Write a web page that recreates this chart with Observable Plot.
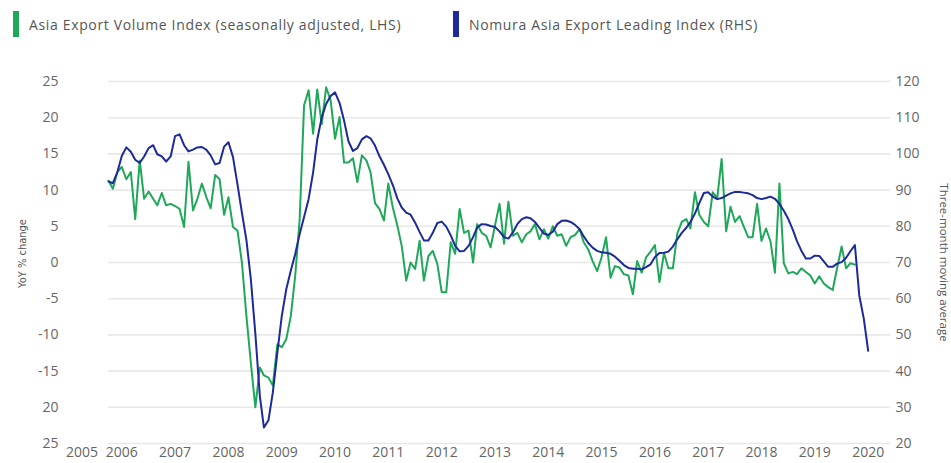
<!DOCTYPE html>
<html><head><meta charset="utf-8">
<script src="https://cdn.jsdelivr.net/npm/d3@7"></script>
<script src="https://cdn.jsdelivr.net/npm/@observablehq/plot@0.6"></script>
<style>
html,body{margin:0;padding:0;background:#fff;}
body{width:951px;height:463px;overflow:hidden;font-family:"Open Sans",sans-serif;}
#legend{position:relative;height:50px;}
.sw{position:absolute;top:11px;width:6px;height:26px;}
.lt{position:absolute;top:15px;font-size:14px;line-height:20px;color:#555;white-space:nowrap;letter-spacing:0.65px;}
</style></head><body>
<div id="legend"></div>
<div id="chart"></div>
<script>
// Series names
const seriesNames = ["Asia Export Volume Index (seasonally adjusted, LHS)", "Nomura Asia Export Leading Index (RHS)"];
const seriesColors = ["#1fa85a", "#1c2a9a"];
// First month of both monthly series
const firstMonth = "2006-04-01";
const lastAxisMonth = "2020-12-01";
// Asia Export Volume Index, YoY % change (left axis), monthly
const exportVolume = [
 11.3, 10.2, 12.5, 13.2, 11.5, 12.5, 6.0, 14.1, 8.8, 9.8,
 8.8, 7.9, 9.6, 7.9, 8.1, 7.8, 7.4, 4.9, 13.9, 7.2,
 8.8, 10.9, 9.0, 7.5, 12.1, 11.5, 6.6, 9.0, 4.9, 4.4,
 0.0, -7.4, -13.8, -20.0, -14.5, -15.6, -15.9, -17.0, -11.3, -11.7,
 -10.6, -7.4, -1.9, 6.0, 21.7, 23.8, 17.8, 23.9, 19.1, 24.2,
 22.4, 17.1, 20.1, 13.8, 13.8, 14.4, 11.1, 14.8, 14.1, 12.5,
 8.2, 7.4, 5.8, 10.9, 7.6, 5.1,
 2.3, -2.5, 0.0, -0.9, 3.0, -2.5, 0.9, 1.6, -0.2, -4.1,
 -4.1, 2.8, 1.2, 7.4, 4.1, 4.4, 0.0, 5.3, 4.1, 3.7,
 2.1, 5.1, 8.1, 2.6, 8.4, 3.7, 4.1, 2.8, 3.9, 4.3,
 5.3, 3.2, 4.6, 3.3, 5.0, 3.7, 3.9, 2.3, 3.5, 3.8,
 4.6, 2.8, 1.8, 0.2, -1.2, 0.7, 3.5, -2.1, -0.5, -0.7,
 -1.6, -1.8, -4.4, 0.2, -1.4, 0.7,
 1.5, 2.4, -2.7, 1.3, -0.8, -0.8, 4.0, 5.6, 6.0, 4.7,
 9.7, 6.6, 5.6, 5.0, 9.7, 8.9, 14.3, 4.3, 7.7, 5.6,
 6.4, 5.0, 3.5, 3.5, 8.1, 3.0, 4.7, 2.9, -1.4, 10.9,
 -0.1, -1.5, -1.3, -1.6, -0.8, -1.3, -1.8, -2.9, -1.9, -2.9,
 -3.4, -3.8, -0.8, 2.2, -0.8, -0.1, -0.3
];
// Nomura Asia Export Leading Index, three-month moving average (right axis), monthly
const leadingIndex = [
 92.4, 91.9, 95.0, 99.4, 101.8, 100.6, 98.4, 97.5, 99.3, 101.6,
 102.4, 99.9, 99.3, 97.9, 99.3, 104.9, 105.4, 102.4, 100.7, 101.2,
 101.8, 101.9, 101.1, 99.6, 97.1, 97.5, 102.0, 103.2, 99.1, 91.5,
 83.8, 76.2, 65.5, 50.4, 33.1, 24.4, 26.4, 34.1, 45.1, 55.1,
 62.6, 67.7, 72.3, 77.9, 82.6, 87.5, 94.9, 103.9, 110.1, 113.8,
 116.0, 117.0, 114.1, 109.2, 103.5, 100.8, 101.6, 104.0, 104.9, 104.3,
 102.3, 99.4, 97.0, 94.4, 91.4, 87.7, 85.2, 83.8, 83.2, 81.0,
 78.4, 76.1, 76.1, 78.2, 80.9, 81.3, 79.9, 77.5, 74.6, 73.1,
 73.2, 74.6, 77.0, 79.7, 80.6, 80.5, 80.1, 79.8, 78.6, 77.0,
 76.6, 78.3, 80.6, 82.0, 82.5, 82.2, 81.2, 79.6, 78.0, 77.6,
 78.5, 80.6, 81.5, 81.6, 81.2, 80.4, 79.2, 77.2, 75.4, 74.1,
 73.2, 72.8, 72.7, 72.4, 71.6, 70.5, 69.3, 68.5, 68.3, 68.3,
 68.1, 68.7, 69.5, 71.5, 72.6, 72.7, 73.0, 74.4, 76.4, 78.2,
 79.6, 81.2, 83.5, 86.4, 89.2, 89.4, 88.2, 87.5, 87.8, 88.5,
 89.1, 89.5, 89.5, 89.3, 89.1, 88.6, 87.8, 87.5, 87.8, 88.2,
 87.6, 86.2, 84.3, 82.0, 79.0, 75.9, 73.2, 71.1, 71.1, 71.9,
 71.8, 70.3, 68.8, 68.8, 69.7, 70.1, 71.3, 73.1, 74.8, 60.9,
 54.5, 45.6
];
// Axis ticks
const leftTicks = [25, 20, 15, 10, 5, 0, -5, -10, -15, -20, -25];
const leftTickLabels = ["25", "20", "15", "10", "5", "0", "-5", "-10", "-15", "20", "25"];
const rightTicks = [120, 110, 100, 90, 80, 70, 60, 50, 40, 30, 20];
const yearTicks = [2005, 2006, 2007, 2008, 2009, 2010, 2011, 2012, 2013, 2014, 2015, 2016, 2017, 2018, 2019, 2020];
// month (0-11) at which each year label sits; the 2005 label sits late in its year as in the reference
const yearTickMonth = [9, 6, 6, 6, 6, 6, 6, 6, 6, 6, 6, 6, 6, 6, 6, 6];
const leftLabel = "YoY % change";
const rightLabel = "Three-month moving average";

// right axis value r maps onto the left scale: r = 70 + 2*v
const toLeft = r => (r - 70) / 2;
const start = new Date(firstMonth + "T00:00:00Z");
const greenData = exportVolume.map((v, i) => ({date: d3.utcMonth.offset(start, i), v}));
const blueData = leadingIndex.map((r, i) => ({date: d3.utcMonth.offset(start, i), v: toLeft(r)}));
const yearDates = yearTicks.map((y, i) => new Date(Date.UTC(y, yearTickMonth[i], 1)));

// legend
const legend = document.getElementById("legend");
const legendX = [13, 453];
seriesNames.forEach((name, i) => {
  const sw = document.createElement("div");
  sw.className = "sw"; sw.style.left = legendX[i] + "px"; sw.style.background = seriesColors[i];
  const t = document.createElement("div");
  t.className = "lt"; t.style.left = (legendX[i] + 16) + "px"; t.textContent = name;
  legend.append(sw, t);
});

const tickFont = "Open Sans, sans-serif";
const chart = Plot.plot({
  width: 951,
  height: 413,
  marginTop: 31,
  marginBottom: 20,
  marginLeft: 108,
  marginRight: 61,
  style: {fontFamily: tickFont, background: "#fff"},
  x: {type: "utc", domain: [start, new Date(lastAxisMonth + "T00:00:00Z")]},
  y: {domain: [-25, 25]},
  marks: [
    Plot.gridY(leftTicks, {stroke: "#e8e8e8", strokeOpacity: 1, strokeWidth: 1.6}),
    Plot.axisY(leftTicks, {anchor: "left", tickSize: 0, tickPadding: 50, label: null,
      tickFormat: d => leftTickLabels[leftTicks.indexOf(d)], fontSize: 14, fill: "#666"}),
    Plot.axisY(rightTicks.map(toLeft), {anchor: "right", tickSize: 0, tickPadding: 5, label: null,
      tickFormat: d => String(rightTicks[rightTicks.map(toLeft).indexOf(d)]), fontSize: 14, fill: "#666"}),
    Plot.axisX(yearDates, {anchor: "bottom", tickSize: 0, tickPadding: 4, label: null,
      tickFormat: d => String(d.getUTCFullYear()), fontSize: 14, fill: "#666"}),
    Plot.text([leftLabel], {frameAnchor: "left", textAnchor: "middle", dx: -86, dy: -9, rotate: -90,
      fontSize: 11, fontFamily: "Liberation Sans Narrow, DejaVu Sans Condensed, Open Sans, sans-serif", fill: "#555"}),
    Plot.text([rightLabel], {frameAnchor: "right", textAnchor: "middle", dx: 53, rotate: 90, fontSize: 11.5, fill: "#555"}),
    Plot.line(greenData, {x: "date", y: "v", stroke: seriesColors[0], strokeWidth: 2}),
    Plot.line(blueData, {x: "date", y: "v", stroke: seriesColors[1], strokeWidth: 2})
  ]
});
document.getElementById("chart").append(chart);
</script>
</body></html>
